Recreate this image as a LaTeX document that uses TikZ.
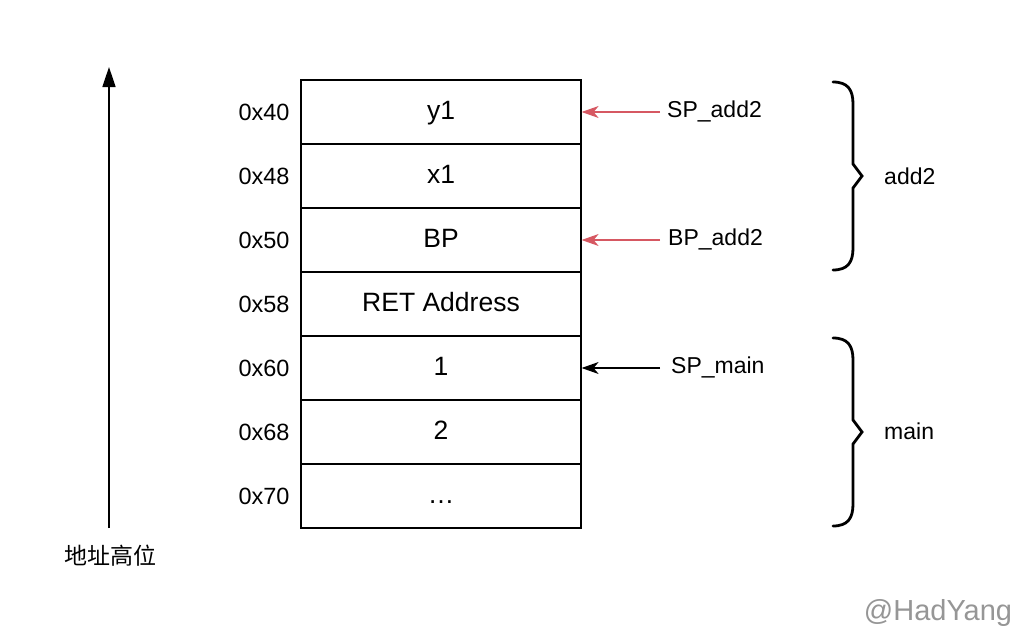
\documentclass[tikz,border=0pt]{standalone}
\usepackage{fontspec}
\setmainfont{Liberation Sans}
\newfontfamily\cjk{Noto Sans CJK SC}
\usetikzlibrary{arrows.meta}
\definecolor{redarrow}{RGB}{214,88,98}
\definecolor{wm}{RGB}{150,150,150}
\begin{document}
\begin{tikzpicture}[x=1pt,y=-1pt,
  cell/.style={draw,line width=1.2pt,minimum width=280pt,minimum height=64pt,inner sep=0pt,text height=19pt,text depth=5pt,font=\fontsize{26.5}{30}\selectfont},
  addr/.style={font=\fontsize{23.5}{27}\selectfont,anchor=center},
  lbl/.style={font=\fontsize{23}{27}\selectfont,anchor=west,inner sep=0pt},
  ptr/.style={line width=1.2pt,-{Stealth[length=17pt,width=12pt,inset=5pt]}},
  brace/.style={line width=2.8pt,line cap=round,line join=miter}]
\useasboundingbox (0,0) rectangle (1016,634);
\node[cell] (c1) at (441,112) {y1};
\node[cell] (c2) at (441,176) {x1};
\node[cell] (c3) at (441,240) {BP};
\node[cell] (c4) at (441,304) {RET Address};
\node[cell] (c5) at (441,368) {1};
\node[cell] (c6) at (441,432) {2};
\node[cell] (c7) at (441,496) {…};
\node[addr] (a1) at (264,112) {0x40};
\node[addr] (a2) at (264,176) {0x48};
\node[addr] (a3) at (264,240) {0x50};
\node[addr] (a4) at (264,304) {0x58};
\node[addr] (a5) at (264,368) {0x60};
\node[addr] (a6) at (264,432) {0x68};
\node[addr] (a7) at (264,496) {0x70};
% vertical axis arrow
\coordinate (axb) at (109,528);
\coordinate (axt) at (109,67);
\draw[line width=1.6pt,-{Stealth[length=20pt,width=13pt,inset=0pt]}] (axb) -- (axt);
\node[font=\cjk\fontsize{23}{27}\selectfont] (axl) at (110,556) {地址高位};
% pointers
\node[lbl] (sp2) at (667,111) {SP\_add2};
\node[lbl] (bp2) at (668,239) {BP\_add2};
\node[lbl] (spm) at (671,367) {SP\_main};
\coordinate (s1) at (660,112);
\coordinate (s2) at (660,240);
\coordinate (s3) at (660,368);
\draw[ptr,redarrow] (s1) -- (c1.east);
\draw[ptr,redarrow] (s2) -- (c3.east);
\draw[ptr,black] (s3) -- (c5.east);
% braces
\foreach \yt in {80,336}{
  \draw[brace] (833,\yt+2) .. controls (848,\yt+2) and (853,\yt+10) .. (853,\yt+24)
    -- (853,\yt+84) -- (862,\yt+96) -- (853,\yt+108) -- (853,\yt+168)
    .. controls (853,\yt+182) and (848,\yt+190) .. (833,\yt+190);
}
\node[lbl] (ladd) at (884,176) {add2};
\node[lbl] (lmain) at (884,431) {main};
\node[font=\fontsize{29}{33}\selectfont,text=wm,anchor=center] (wmk) at (938,613) {@HadYang};
\end{tikzpicture}
\end{document}
